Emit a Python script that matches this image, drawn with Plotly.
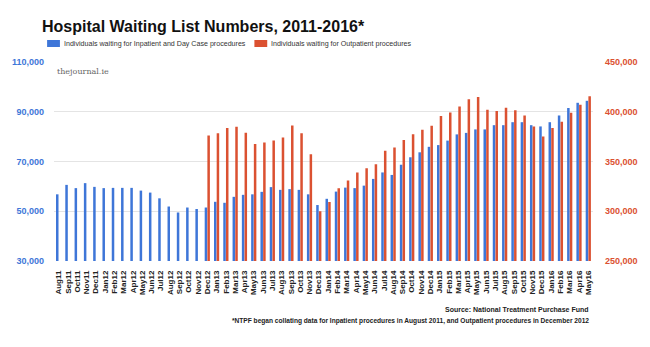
import plotly.graph_objects as go

months = ["Aug11", "Sep11", "Oct11", "Nov11", "Dec11",
          "Jan12", "Feb12", "Mar12", "Apr12", "May12", "Jun12", "Jul12", "Aug12", "Sep12", "Oct12", "Nov12", "Dec12",
          "Jan13", "Feb13", "Mar13", "Apr13", "May13", "Jun13", "Jul13", "Aug13", "Sep13", "Oct13", "Nov13", "Dec13",
          "Jan14", "Feb14", "Mar14", "Apr14", "May14", "Jun14", "Jul14", "Aug14", "Sep14", "Oct14", "Nov14", "Dec14",
          "Jan15", "Feb15", "Mar15", "Apr15", "May15", "Jun15", "Jul15", "Aug15", "Sep15", "Oct15", "Nov15", "Dec15",
          "Jan16", "Feb16", "Mar16", "Apr16", "May16"]

inpatient = [56800, 60600, 59300, 61300, 59800,
             59300, 59400, 59400, 59400, 58300, 57500, 55200, 51900, 49500, 51500, 50900, 51500,
             53800, 53400, 55800, 56600, 56800, 57800, 59700, 58600, 58900, 58600, 56800, 52500,
             55000, 57900, 59500, 59300, 60300, 63000, 65600, 64600, 68700, 71700, 73700, 75900,
             76600, 78400, 80900, 81500, 82900, 82900, 84600, 84600, 85800, 85800, 84600, 84100,
             85800, 88500, 91500, 93600, 94400]

outpatient = [None] * 16 + [
    376200,
    378500, 383600, 384900, 378900, 367500, 369100, 371200, 374200, 386300, 378500, 357400, 300000,
    309400, 323200, 330900, 338900, 343300, 347300, 360700, 364100, 371500, 377500, 381900, 385900,
    395700, 399300, 405400, 412500, 414800, 402000, 400700, 404000, 401400, 396300, 385200, 375200,
    383600, 389900, 399000, 407100, 415500]

left_ticks = [30000, 50000, 70000, 90000, 110000]
right_ticks = [250000, 300000, 350000, 400000, 450000]

names = ["Individuals waiting for Inpatient and Day Case procedures",
         "Individuals waiting for Outpatient procedures"]

BLUE = "#3e76d8"
RED = "#db5131"
FONT = "Liberation Sans"

fig = go.Figure()
fig.add_trace(go.Bar(
    x=months, y=inpatient, name=names[0], showlegend=False,
    marker=dict(color=BLUE, line=dict(width=0)), width=0.27, offset=-0.285, yaxis="y"))
fig.add_trace(go.Bar(
    x=months, y=outpatient, name=names[1], showlegend=False,
    marker=dict(color=RED, line=dict(width=0)), width=0.27, offset=0.005, yaxis="y2"))

# custom legend (swatch + label), laid out like the original
legend_items = [(names[0], BLUE, -0.0128), (names[1], RED, 0.3718)]
shapes = []
annotations = []
for label, color, x0 in legend_items:
    shapes.append(dict(type="rect", xref="paper", yref="paper",
                       x0=x0, x1=x0 + 0.0238, y0=1.0754, y1=1.1106,
                       fillcolor=color, line=dict(width=0)))
    annotations.append(dict(text=label, xref="paper", yref="paper",
                            x=x0 + 0.0275, y=1.0905, xanchor="left", yanchor="middle",
                            showarrow=False, font=dict(size=7.1, color="#333333")))

annotations += [
    dict(text="thejournal.ie", xref="paper", yref="paper", x=0.002, y=0.952,
         xanchor="left", yanchor="middle", showarrow=False,
         font=dict(family="DejaVu Serif", size=8, color="#666666")),
    dict(text="<b>Source: National Treatment Purchase Fund</b>", xref="paper", yref="paper",
         x=0.996, y=-0.246, xanchor="right", yanchor="middle", showarrow=False,
         font=dict(size=7, color="#222222")),
    dict(text="<b>*NTPF began collating data for Inpatient procedures in August 2011, and Outpatient procedures in December 2012</b>",
         xref="paper", yref="paper", x=0.996, y=-0.302, xanchor="right", yanchor="middle",
         showarrow=False, font=dict(size=6.6, color="#222222")),
]

fig.update_layout(
    width=650, height=347,
    margin=dict(l=49, r=55, t=62, b=86),
    paper_bgcolor="white", plot_bgcolor="white",
    barmode="overlay",
    font=dict(family=FONT, color="#222222"),
    title=dict(
        text="<b>Hospital Waiting List Numbers, 2011-2016*</b>",
        font=dict(family=FONT, size=16, color="#111111"),
        xref="container", x=0.0646, xanchor="left",
        yref="container", y=0.925, yanchor="middle"),
    xaxis=dict(
        type="category", tickmode="array", tickvals=months, ticktext=months,
        tickangle=-90, tickfont=dict(size=8, color="#222222", weight="bold"),
        showgrid=False, showline=False, zeroline=False, ticks="",
        ticklabelstandoff=7,
        range=[-0.5, len(months) - 0.5]),
    yaxis=dict(
        range=[30000, 110000], tickvals=left_ticks, tickformat=",d",
        tickfont=dict(size=9, color=BLUE, weight="bold"),
        showgrid=True, gridcolor="#e4e4e4", gridwidth=1, zeroline=False,
        showline=False, ticks="", ticklabelstandoff=9),
    yaxis2=dict(
        range=[250000, 450000], tickvals=right_ticks, tickformat=",d",
        tickfont=dict(size=9, color=RED, weight="bold"),
        overlaying="y", side="right", showgrid=False, zeroline=False,
        showline=False, ticks="", ticklabelstandoff=11),
    shapes=shapes,
    annotations=annotations,
)

fig.write_html("out.html")
